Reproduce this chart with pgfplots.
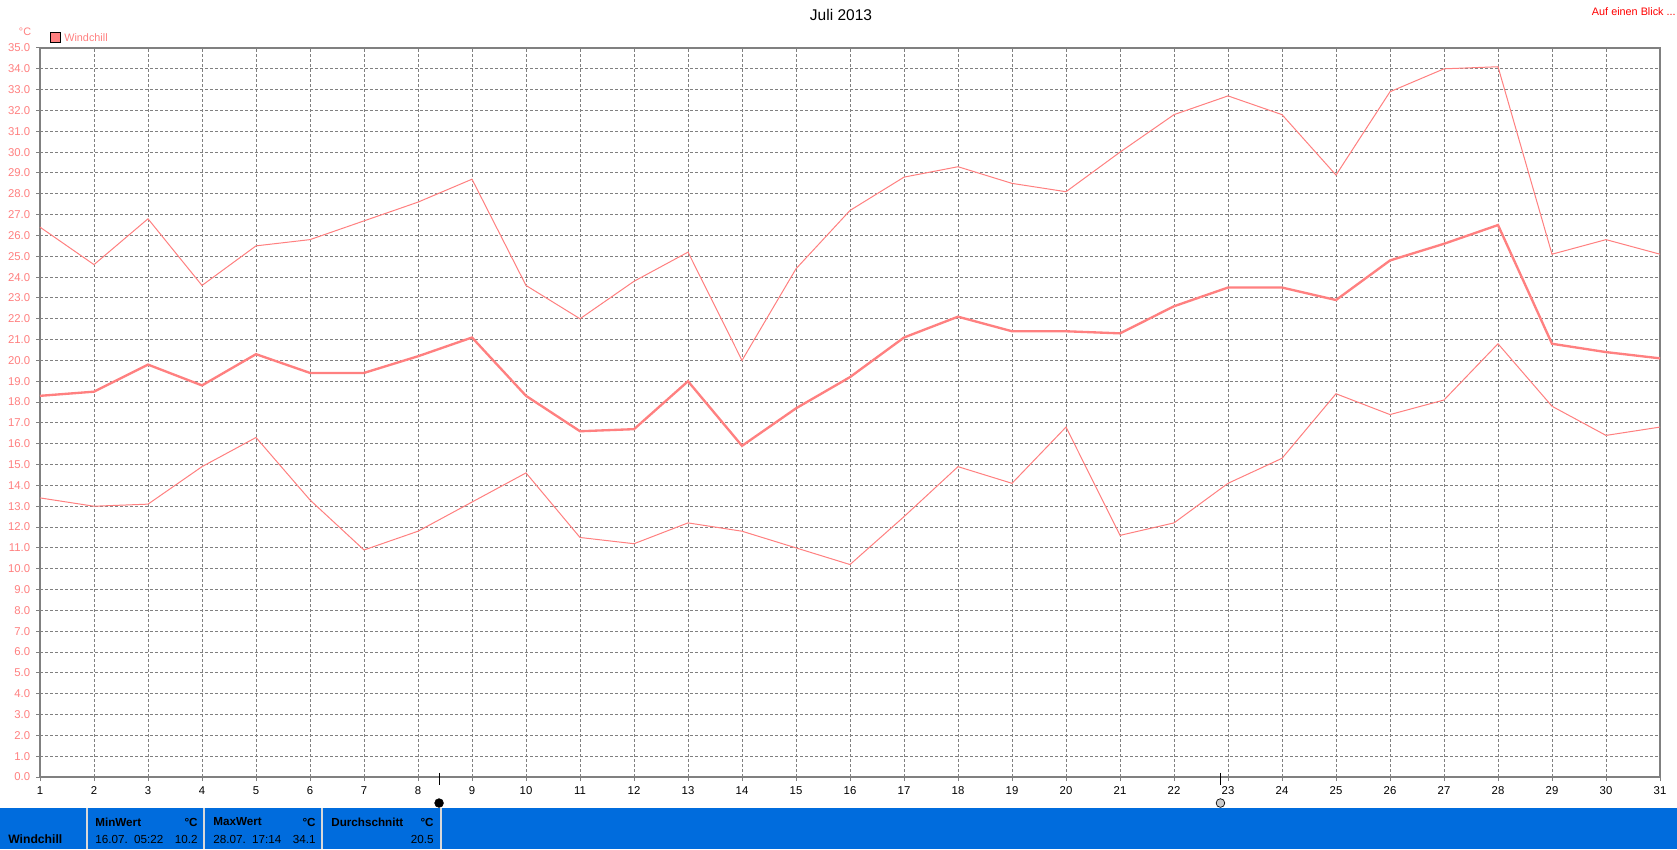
\documentclass[border=0pt]{standalone}
\usepackage{pgfplots}
\pgfplotsset{compat=1.18}
\usepackage{pgfplotstable}
\usepackage{fontspec}
\setmainfont{Liberation Sans}

\definecolor{wpink}{RGB}{255,128,128}
\definecolor{wblue}{RGB}{0,108,221}
\definecolor{wgray}{RGB}{128,128,128}

% Windchill, Juli 2013: daily max, mean, min
\pgfplotstableread{
day max  avg  min
1   26.4 18.3 13.4
2   24.6 18.5 13.0
3   26.8 19.8 13.1
4   23.6 18.8 14.9
5   25.5 20.3 16.3
6   25.8 19.4 13.3
7   26.7 19.4 10.9
8   27.6 20.2 11.8
9   28.7 21.1 13.2
10  23.6 18.3 14.6
11  22.0 16.6 11.5
12  23.8 16.7 11.2
13  25.2 19.0 12.2
14  20.0 15.9 11.8
15  24.4 17.7 11.0
16  27.2 19.2 10.2
17  28.8 21.1 12.5
18  29.3 22.1 14.9
19  28.5 21.4 14.1
20  28.1 21.4 16.8
21  30.0 21.3 11.6
22  31.8 22.6 12.2
23  32.7 23.5 14.1
24  31.8 23.5 15.3
25  28.9 22.9 18.4
26  32.9 24.8 17.4
27  34.0 25.6 18.1
28  34.1 26.5 20.8
29  25.1 20.8 17.8
30  25.8 20.4 16.4
31  25.1 20.1 16.8
}\windchill

\begin{document}
\begin{tikzpicture}
\useasboundingbox (0,0) rectangle (1006.2pt,509.4pt);
\fill[white] (0,0) rectangle (1006.2pt,509.4pt);
% status panel
\fill[wblue] (0,0) rectangle (1006.2pt,24.6pt);
\foreach \x in {52.2,122.4,193.2,264.6}
  \fill[gray!30] (\x pt-0.6pt,0) rectangle (\x pt+0.6pt,24.6pt);

\begin{axis}[
    at={(24pt,43.2pt)}, anchor=south west,
    scale only axis, width=972pt, height=437.4pt,
    xmin=1, xmax=31, ymin=0, ymax=35,
    xtick={1,...,31}, ytick={0,...,35},
    clip=false,
    axis line style={wgray, line width=1pt},
    tick pos=left,
    tick align=outside,
    major tick length=2.4pt,
    tick style={wgray, line width=0.6pt},
    grid=major,
    major grid style={wgray, line width=0.6pt, dash pattern=on 1.8pt off 1.2pt},
    ticklabel style={font=\fontsize{6.8}{8}\selectfont},
    xticklabel style={black},
    yticklabel style={wpink},
    /pgf/number format/assume math mode=true,
    yticklabel={\pgfmathprintnumber[fixed,fixed zerofill,precision=1]{\tick}},
  ]
  \addplot[wpink, line width=0.6pt] table[x=day, y=max] {\windchill};
  \addplot[wpink, line width=0.6pt] table[x=day, y=min] {\windchill};
  \addplot[wpink, line width=1.4pt] table[x=day, y=avg] {\windchill};
  % moon phase markers
  \addplot[black, line width=0.6pt] coordinates {(8.39,0.2) (8.39,-0.38)};
  \addplot[only marks, mark=*, mark size=2.6pt, black] coordinates {(8.39,-1.25)};
  \addplot[black, line width=0.6pt] coordinates {(22.86,0.2) (22.86,-0.38)};
  \addplot[only marks, mark=*, mark size=2.6pt, draw=black, fill=gray!40] coordinates {(22.86,-1.25)};
\end{axis}

% header
\node[font=\fontsize{9.3}{11}\selectfont] at (504.6pt,500.4pt) {Juli 2013};
\node[font=\fontsize{6.5}{8}\selectfont, text=red, anchor=east, inner sep=0pt] at (1005.6pt,502.2pt) {Auf einen Blick ...};
\node[font=\fontsize{6.5}{8}\selectfont, text=wpink] at (15pt,490.2pt) {°C};
\draw[fill=wpink, draw=black, line width=0.6pt] (30pt,483.6pt) rectangle (36pt,489.6pt);
\node[font=\fontsize{6.5}{8}\selectfont, text=wpink, anchor=west, inner sep=0pt] at (38.4pt,486.6pt) {Windchill};

% panel text
\begin{scope}[every node/.style={inner sep=0pt, font=\fontsize{7}{8}\selectfont}]
  \node[anchor=west, font=\fontsize{7.3}{8}\selectfont\bfseries] at (4.8pt,6pt) {Windchill};
  \node[anchor=west, font=\fontsize{7}{8}\selectfont\bfseries] at (57pt,16.2pt) {MinWert};
  \node[anchor=east, font=\fontsize{7}{8}\selectfont\bfseries] at (118.8pt,16.2pt) {°C};
  \node[anchor=west] at (57pt,6pt) {16.07.\ \ 05:22};
  \node[anchor=east] at (118.8pt,6pt) {10.2};
  \node[anchor=west, font=\fontsize{7}{8}\selectfont\bfseries] at (127.8pt,16.2pt) {MaxWert};
  \node[anchor=east, font=\fontsize{7}{8}\selectfont\bfseries] at (189.6pt,16.2pt) {°C};
  \node[anchor=west] at (127.8pt,6pt) {28.07.\ \ 17:14};
  \node[anchor=east] at (189.6pt,6pt) {34.1};
  \node[anchor=west, font=\fontsize{7}{8}\selectfont\bfseries] at (198.6pt,16.2pt) {Durchschnitt};
  \node[anchor=east, font=\fontsize{7}{8}\selectfont\bfseries] at (260.4pt,16.2pt) {°C};
  \node[anchor=east] at (260.4pt,6pt) {20.5};
\end{scope}
\end{tikzpicture}
\end{document}
